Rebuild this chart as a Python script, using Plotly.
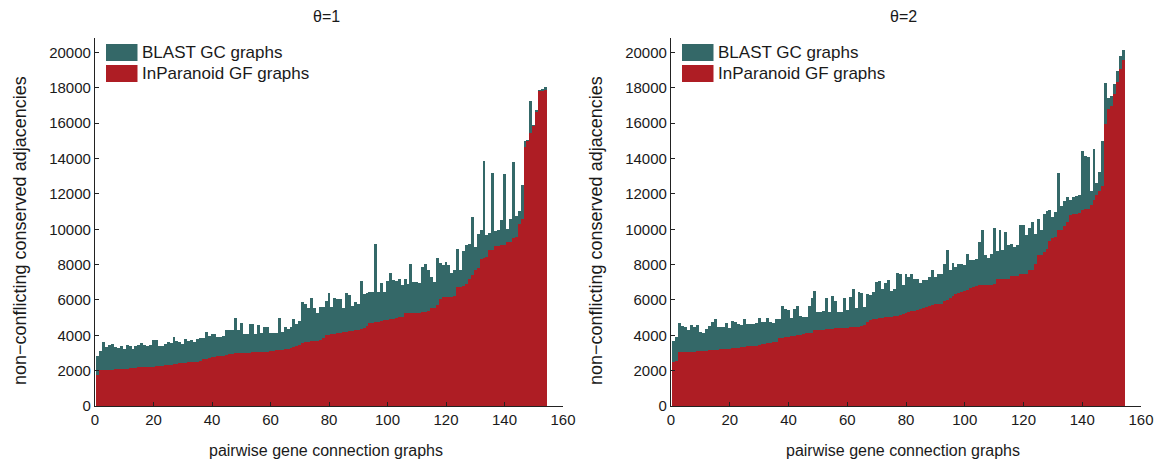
import plotly.graph_objects as go

# ---------------- data ----------------
graph_index = list(range(1, 155))

blast_theta1 = [2817, 3117, 3624, 3305, 3437, 3493, 3300, 3250, 3400, 3200,
                3450, 3400, 3200, 3400, 3450, 3530, 3437, 3400, 3437, 3718,
                3700, 3400, 3350, 3500, 3600, 3550, 3868, 3650, 3600, 3500,
                3750, 3650, 3700, 3600, 3750, 3800, 3850, 4188, 3950, 4056,
                4040, 3900, 3900, 3950, 4282, 4282, 4282, 4939, 4300, 4657,
                4056, 4056, 4601, 4620, 4056, 4563, 4094, 4469, 4469, 4094,
                4131, 4131, 4958, 4188, 4432, 4319, 4469, 4883, 4620, 4789,
                5878, 5746, 5503, 6066, 5540, 5258, 5596, 5596, 5934, 6347,
                5596, 6103, 6047, 6047, 5540, 6385, 6253, 5653, 5878, 5750,
                7023, 6291, 6385, 6441, 6441, 9127, 6441, 6948, 6441, 7042,
                7512, 7099, 7042, 7192, 6817, 7136, 6854, 8038, 7005, 7005,
                6911, 7850, 8038, 7662, 7286, 6967, 8376, 8075, 7944, 8131,
                7944, 7530, 7662, 8883, 7700, 8751, 9070, 9164, 10667, 8976,
                9690, 9953, 13821, 9634, 9765, 13164, 9859, 9916, 10479, 13089,
                9972, 10535, 13765, 10723, 11005, 12507, 14949, 15050, 17239, 15900,
                16700, 17850, 17900, 18000]

inparanoid_theta1 = [1750, 2000, 2030, 2030, 2040, 2040, 2050, 2050, 2060, 2070,
                     2080, 2100, 2120, 2140, 2160, 2170, 2180, 2190, 2200, 2210,
                     2220, 2240, 2260, 2280, 2300, 2310, 2330, 2360, 2390, 2400,
                     2420, 2440, 2460, 2480, 2490, 2500, 2630, 2660, 2700, 2740,
                     2760, 2780, 2800, 2820, 2860, 2900, 2930, 2950, 2970, 2980,
                     2990, 3000, 3000, 3010, 3020, 3030, 3040, 3050, 3060, 3080,
                     3100, 3120, 3140, 3160, 3180, 3220, 3260, 3300, 3380, 3450,
                     3530, 3580, 3620, 3640, 3660, 3670, 3700, 3850, 4000, 4020,
                     4040, 4060, 4080, 4100, 4140, 4170, 4200, 4230, 4260, 4300,
                     4340, 4380, 4500, 4660, 4700, 4730, 4750, 4780, 4820, 4860,
                     4880, 4920, 4960, 4995, 5030, 5220, 5230, 5230, 5240, 5250,
                     5260, 5300, 5320, 5340, 5520, 5540, 5690, 6010, 6160, 6160,
                     6170, 6170, 6180, 6685, 6700, 6760, 6900, 7190, 7400, 7660,
                     7760, 8320, 8340, 8400, 8790, 8800, 9030, 9050, 9070, 9100,
                     9240, 9260, 9470, 9540, 10290, 10535, 14650, 14990, 15420, 15830,
                     16620, 17800, 17810, 17860]

blast_theta2 = [3681, 3906, 4657, 4507, 4432, 4282, 4545, 4469, 4545, 4188,
                4131, 4338, 4507, 4751, 4883, 4469, 4432, 4469, 4695, 4394,
                4808, 4751, 4620, 4563, 4883, 4600, 4620, 4620, 4695, 4977,
                4751, 4751, 4939, 4751, 4657, 4883, 4883, 5634, 5446, 5400,
                4977, 5465, 5634, 5070, 5033, 4995, 5634, 6066, 6498, 5315,
                5315, 5370, 6066, 5315, 6197, 5934, 5315, 5315, 6066, 5408,
                6160, 6573, 5502, 6441, 6347, 5596, 6291, 6253, 6403, 6986,
                7042, 6573, 6911, 7099, 6460, 6573, 7512, 7436, 6817, 7474,
                7286, 7474, 7192, 7150, 6911, 7099, 7130, 7286, 7700, 7286,
                7436, 7436, 8000, 8826, 7700, 8075, 7850, 8000, 8000, 7950,
                8563, 8216, 8216, 8300, 9258, 9915, 8507, 8376, 8563, 10066,
                8751, 9953, 8826, 9803, 9070, 9164, 8976, 9100, 10235, 10197,
                9634, 10066, 10385, 9690, 10573, 9915, 10817, 10986, 11042, 10667,
                10948, 13146, 11268, 11568, 11793, 11606, 11793, 11887, 11944, 14423,
                14141, 14085, 12169, 14516, 12600, 13200, 14986, 18272, 17427, 17521,
                18178, 18930, 19775, 20094]

inparanoid_theta2 = [2440, 2500, 3005, 3020, 3030, 3040, 3050, 3060, 3070, 3080,
                     3090, 3110, 3130, 3150, 3160, 3170, 3180, 3190, 3200, 3220,
                     3240, 3260, 3280, 3300, 3330, 3350, 3370, 3390, 3400, 3450,
                     3480, 3500, 3520, 3560, 3580, 3600, 3800, 3830, 3860, 3900,
                     3920, 3950, 3980, 4000, 4050, 4080, 4100, 4120, 4250, 4270,
                     4290, 4300, 4320, 4330, 4340, 4370, 4380, 4390, 4400, 4410,
                     4420, 4430, 4440, 4450, 4500, 4560, 4750, 4820, 4900, 4920,
                     4950, 4970, 5000, 5020, 5040, 5060, 5070, 5100, 5200, 5260,
                     5300, 5370, 5380, 5400, 5450, 5500, 5560, 5620, 5700, 5750,
                     5760, 5770, 5900, 5990, 6100, 6220, 6300, 6370, 6420, 6480,
                     6550, 6650, 6700, 6750, 6800, 6820, 6830, 6840, 6850, 6900,
                     7140, 7140, 7150, 7150, 7160, 7320, 7330, 7330, 7440, 7440,
                     7450, 7660, 7670, 8040, 8500, 8520, 8700, 8880, 9310, 9500,
                     9520, 9950, 9960, 10140, 10380, 10760, 10850, 10860, 10870, 11080,
                     11136, 11140, 11324, 11606, 11944, 12131, 12451, 15925, 16770, 16958,
                     17615, 18329, 19023, 19530]

panel_titles = ["θ=1", "θ=2"]
series_names = ["BLAST GC graphs", "InParanoid GF graphs"]
x_tick_vals = list(range(0, 161, 20))
y_tick_vals = list(range(0, 20001, 2000))
y_tick_text = [str(v) for v in y_tick_vals]
x_title = "pairwise gene connection graphs"
y_title = "non\u2212conflicting conserved adjacencies"

# ---------------- style ----------------
W, H = 1158, 459
TEAL = "#346868"
RED = "#AE1D24"
FONT = "Liberation Sans"
TXT = "#1a1a1a"

panels = [dict(x0=95, x1=563), dict(x0=671, x1=1141)]
y_bottom, y_top = 406, 38.4
Y_MAX = 20800

def px(x):
    return x / W

def py(y):
    return 1 - y / H

fig = go.Figure()

data_sets = [(blast_theta1, inparanoid_theta1), (blast_theta2, inparanoid_theta2)]
for k, (blast, inpar) in enumerate(data_sets):
    xa = "x" if k == 0 else "x2"
    ya = "y" if k == 0 else "y2"
    fig.add_trace(go.Bar(x=graph_index, y=blast, width=1, marker_color=TEAL,
                         marker_line_width=0, name=series_names[0],
                         xaxis=xa, yaxis=ya, showlegend=False))
    fig.add_trace(go.Bar(x=graph_index, y=inpar, width=1, marker_color=RED,
                         marker_line_width=0, name=series_names[1],
                         xaxis=xa, yaxis=ya, showlegend=False))

axis_common = dict(showgrid=False, zeroline=False, showline=True,
                   linecolor="#222222", linewidth=1.2, ticks="inside",
                   ticklen=4, tickwidth=1, tickcolor="#222222",
                   tickfont=dict(family=FONT, size=15, color=TXT),
                   automargin=False, fixedrange=True)

layout = dict(
    width=W, height=H,
    margin=dict(l=0, r=0, t=0, b=0),
    paper_bgcolor="white", plot_bgcolor="white",
    barmode="overlay", bargap=0,
    showlegend=False,
    font=dict(family=FONT, color=TXT),
)

annotations = []
shapes = []
for k, p in enumerate(panels):
    sfx = "" if k == 0 else "2"
    layout["xaxis" + sfx] = dict(axis_common, domain=[px(p["x0"]), px(p["x1"])],
                                 range=[0, 160], tickvals=x_tick_vals,
                                 anchor="y" + sfx)
    layout["yaxis" + sfx] = dict(axis_common, domain=[py(y_bottom), py(y_top)],
                                 range=[0, Y_MAX], tickvals=y_tick_vals,
                                 ticktext=y_tick_text, anchor="x" + sfx)
    cx = (p["x0"] + p["x1"]) / 2
    annotations.append(dict(text=panel_titles[k], x=px(cx - 3), y=py(17),
                            xref="paper", yref="paper", showarrow=False,
                            xanchor="center", yanchor="middle",
                            font=dict(family=FONT, size=16, color=TXT)))
    annotations.append(dict(text=x_title, x=px(cx - 3), y=py(450),
                            xref="paper", yref="paper", showarrow=False,
                            xanchor="center", yanchor="middle",
                            font=dict(family=FONT, size=16, color=TXT)))
    annotations.append(dict(text=y_title, x=px(p["x0"] - 75), y=py(231),
                            xref="paper", yref="paper", showarrow=False,
                            textangle=-90, xanchor="center", yanchor="middle",
                            font=dict(family=FONT, size=18, color=TXT)))
    lx0 = p["x0"] + 11
    for j, (col, name) in enumerate([(TEAL, series_names[0]), (RED, series_names[1])]):
        top = 44 + j * 21
        shapes.append(dict(type="rect", xref="paper", yref="paper",
                           x0=px(lx0), x1=px(lx0 + 31.5), y0=py(top), y1=py(top + 17),
                           fillcolor=col, line=dict(width=0)))
        annotations.append(dict(text=name, x=px(lx0 + 34), y=py(top + 8.5),
                                xref="paper", yref="paper", showarrow=False,
                                xanchor="left", yanchor="middle",
                                font=dict(family=FONT, size=17, color=TXT)))

layout["annotations"] = annotations
layout["shapes"] = shapes
fig.update_layout(**layout)

fig.write_html("out.html")
